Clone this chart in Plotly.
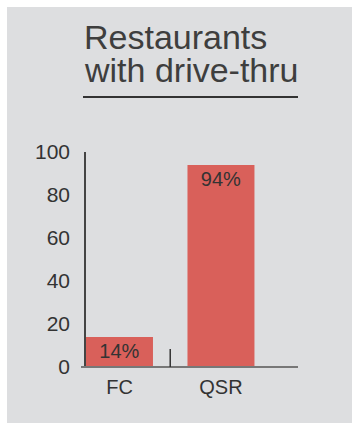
import plotly.graph_objects as go

# Share of restaurants offering a drive-thru, by segment
categories = ["FC", "QSR"]
shares = [14, 94]
bar_labels = ["14%", "94%"]
y_ticks = [0, 20, 40, 60, 80, 100]
title_lines = ["Restaurants", "with drive-thru"]

FONT = "Liberation Sans, Arial, sans-serif"
INK = "#333333"
BAR = "#d9605a"
PANEL = "#dddee0"

W, H = 352, 424
ML, MR, MT, MB = 86, 54, 152, 57
pw, ph = W - ML - MR, H - MT - MB


def px_x(p):
    return (p - ML) / pw


def px_y(p):
    return (H - MB - p) / ph


fig = go.Figure(
    go.Bar(
        x=categories,
        y=shares,
        text=bar_labels,
        textposition="inside",
        insidetextanchor="end",
        textfont=dict(family=FONT, size=20, color=INK),
        marker=dict(color=BAR, line=dict(width=0)),
        width=0.66,
        hoverinfo="skip",
    )
)

shapes = [
    # grey panel behind the chart
    dict(type="rect", xref="paper", yref="paper", layer="below",
         x0=px_x(7), x1=px_x(W), y0=px_y(H - 1), y1=px_y(7),
         fillcolor=PANEL, line=dict(width=0)),
    # rule under the heading
    dict(type="line", xref="paper", yref="paper",
         x0=px_x(83), x1=px_x(298), y0=px_y(97), y1=px_y(97),
         line=dict(color=INK, width=2)),
    # baseline
    dict(type="line", xref="paper", yref="paper",
         x0=px_x(81), x1=1, y0=0, y1=0,
         line=dict(color="#777777", width=2)),
    # divider tick between the two segments
    dict(type="line", xref="x", yref="paper",
         x0=0.5, x1=0.5, y0=0, y1=px_y(349),
         line=dict(color=INK, width=1.5)),
]

# heading: two lines set 33px apart, baselines at 50 and 83
annotations = [
    dict(text=title_lines[0], xref="paper", yref="paper",
         x=px_x(82), y=px_y(58), xanchor="left", yanchor="bottom",
         showarrow=False, font=dict(family=FONT, size=34, color="#3e3e3e")),
    dict(text=title_lines[1], xref="paper", yref="paper",
         x=px_x(82), y=px_y(91), xanchor="left", yanchor="bottom",
         showarrow=False, font=dict(family=FONT, size=34, color="#3e3e3e")),
]

fig.update_layout(
    width=W, height=H,
    margin=dict(l=ML, r=MR, t=MT, b=MB, pad=0),
    paper_bgcolor="white",
    plot_bgcolor="rgba(0,0,0,0)",
    showlegend=False,
    shapes=shapes,
    annotations=annotations,
    xaxis=dict(
        range=[-0.33, 1.759],
        showgrid=False, zeroline=False, showline=False,
        ticks="", tickfont=dict(family=FONT, size=20, color=INK),
        ticklabelstandoff=6,
        fixedrange=True,
    ),
    yaxis=dict(
        range=[0, 100], tickvals=y_ticks,
        showgrid=False, zeroline=False,
        showline=True, linecolor="#444444", linewidth=1.5,
        ticks="", tickfont=dict(family=FONT, size=21, color=INK),
        ticklabelstandoff=10,
        fixedrange=True,
    ),
)

fig.write_html("out.html", config={"displayModeBar": False})
